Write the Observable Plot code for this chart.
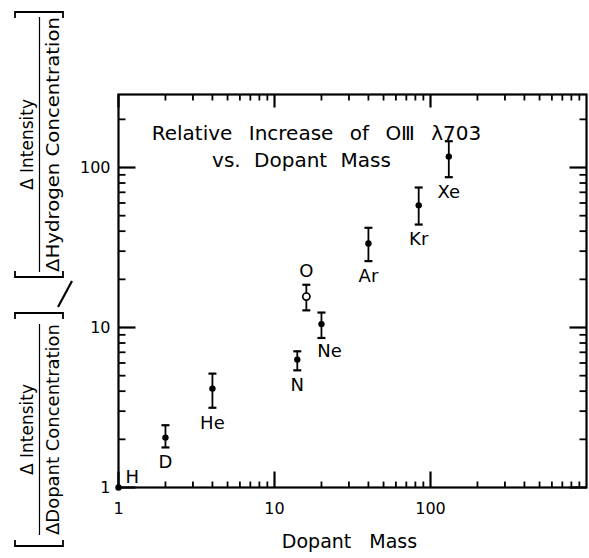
<!DOCTYPE html>
<html><head><meta charset="utf-8">
<script src="https://cdn.jsdelivr.net/npm/d3@7"></script>
<script src="https://cdn.jsdelivr.net/npm/@observablehq/plot@0.6"></script>
<style>
html,body{margin:0;padding:0;background:#fff;}
#chart{width:589px;height:558px;}
</style></head><body><div id="chart"></div>
<script>
// ---- data ----
const elements    = ["H", "D", "He", "N", "O", "Ne", "Ar", "Kr", "Xe"];
const dopantMass  = [1, 2, 4, 14, 16, 20, 40, 84, 131];
const relIncrease = [1, 2.05, 4.15, 6.3, 15.6, 10.5, 33.5, 58, 117];
const errLow      = [null, 1.78, 3.15, 5.4, 12.8, 8.6, 26, 44, 87];
const errHigh     = [null, 2.45, 5.15, 7.1, 18.5, 12.4, 42, 75, 146];
const openMarker  = ["O"];
const xTickLabels = [1, 10, 100];
const xMinorTicks = [2, 3, 4, 5, 6, 7, 8, 9, 20, 30, 40, 50, 60, 70, 80, 90, 200, 300, 400, 500, 600, 700, 800, 900];
const yTickLabels = [1, 10, 100];
const yMinorTicks = [2, 3, 4, 5, 6, 7, 8, 9, 20, 30, 40, 50, 60, 70, 80, 90, 200];
const xDomain     = [1, 1000];
const yDomain     = [1, 286];
const titleLines  = ["Relative Increase of O\u2162 \u03bb703", "vs. Dopant Mass"];
const xAxisLabel  = "Dopant Mass";

const data = elements.map((el, i) => ({el, mass: dopantMass[i], v: relIncrease[i], lo: errLow[i], hi: errHigh[i]}));
const withErr = data.filter(d => d.lo != null);
const below = withErr.filter(d => d.el !== "O" && d.el !== "Ne");

const W = 589, H = 558, mL = 118, mR = 3, mT = 94, mB = 71;
const FONT = "DejaVu Sans";

// small line symbols (length = r)
const seg = (dx, dy) => ({draw(ctx, size) { const r = Math.sqrt(size / Math.PI); ctx.moveTo(0, 0); ctx.lineTo(dx * r, dy * r); }});
const capSymbol = {draw(ctx, size) { const r = Math.sqrt(size / Math.PI); ctx.moveTo(-r, 0); ctx.lineTo(r, 0); }};
const tUp = seg(0, -1), tDown = seg(0, 1), tRight = seg(1, 0), tLeft = seg(-1, 0);
const rowsX = (vals, yb) => vals.map(v => ({v, b: yb}));
const tick = (vals, chan, fixed, sym, len, sw) =>
  Plot.dot(rowsX(vals, fixed), {[chan]: "v", [chan === "x" ? "y" : "x"]: "b", symbol: sym, r: len, stroke: "#000", strokeWidth: sw, fill: "none"});

const svg = Plot.plot({
  width: W, height: H,
  marginLeft: mL, marginRight: mR, marginTop: mT, marginBottom: mB,
  style: {fontFamily: FONT, fontSize: "16px", background: "#fff", color: "#000"},
  x: {type: "log", domain: xDomain},
  y: {type: "log", domain: yDomain},
  marks: [
    Plot.frame({fill: "none", stroke: "#000", strokeWidth: 2.2}),
    // inward ticks on all four sides
    tick(xTickLabels, "x", yDomain[0], tUp, 16, 2.2),
    tick(xMinorTicks, "x", yDomain[0], tUp, 6, 1.8),
    tick(xTickLabels, "x", yDomain[1], tDown, 13, 2.2),
    tick(xMinorTicks, "x", yDomain[1], tDown, 6, 1.8),
    tick(yTickLabels, "y", xDomain[0], tRight, 17, 2.2),
    tick(yMinorTicks, "y", xDomain[0], tRight, 7, 1.8),
    tick(yTickLabels, "y", xDomain[1], tLeft, 17, 2.2),
    tick(yMinorTicks, "y", xDomain[1], tLeft, 7, 1.8),
    Plot.axisX({ticks: xTickLabels, tickSize: 0, tickPadding: 15, tickFormat: d => String(d), label: null, fontSize: 16}),
    Plot.axisY({ticks: yTickLabels, tickSize: 0, tickPadding: 8, tickFormat: d => String(d), label: null, fontSize: 16}),
    // error bars + caps
    Plot.ruleX(withErr, {x: "mass", y1: "lo", y2: "hi", strokeWidth: 1.8}),
    Plot.dot(withErr, {x: "mass", y: "lo", symbol: capSymbol, r: 4, stroke: "#000", strokeWidth: 2.2}),
    Plot.dot(withErr, {x: "mass", y: "hi", symbol: capSymbol, r: 4, stroke: "#000", strokeWidth: 2.2}),
    // points
    Plot.dot(data.filter(d => !openMarker.includes(d.el)), {x: "mass", y: "v", r: 3.2, fill: "#000"}),
    Plot.dot(data.filter(d => openMarker.includes(d.el)), {x: "mass", y: "v", r: 3.6, fill: "#fff", stroke: "#000", strokeWidth: 1.7}),
    // element labels
    Plot.text(below, {x: "mass", y: "lo", text: "el", dy: 15, fontSize: 18}),
    Plot.text(withErr.filter(d => d.el === "Ne"), {x: "mass", y: "lo", text: "el", dx: 8, dy: 13, fontSize: 18}),
    Plot.text(withErr.filter(d => d.el === "O"), {x: "mass", y: "hi", text: "el", dy: -14, fontSize: 18}),
    Plot.text(data.filter(d => d.el === "H"), {x: "mass", y: "v", text: "el", dx: 7, dy: -10, textAnchor: "start", fontSize: 18}),
    // in-plot title
    Plot.text([titleLines[0]], {frameAnchor: "top", text: d => d, dx: -36, dy: 31, fontSize: 20}),
    Plot.text([titleLines[1]], {frameAnchor: "top", text: d => d, dx: -51, dy: 58, fontSize: 20}),
    // x-axis title
    Plot.text([xAxisLabel], {frameAnchor: "bottom", text: d => d, dx: -3, dy: 60, fontSize: 19})
  ]
});
document.getElementById("chart").appendChild(svg);

// wider word spacing like the hand lettering
d3.select(svg).selectAll("text").filter(function() { return this.textContent === titleLines[0]; }).style("word-spacing", "10px");
d3.select(svg).selectAll("text").filter(function() { return this.textContent === titleLines[1]; }).style("word-spacing", "7px");
d3.select(svg).selectAll("text").filter(function() { return this.textContent === xAxisLabel; }).style("word-spacing", "12px");

// ---- rotated y-axis label: [ΔIntensity/ΔDopant Conc.] / [ΔIntensity/ΔHydrogen Conc.] ----
const yl = d3.select(svg).append("g").attr("fill", "#000").attr("stroke", "none").style("font-family", FONT);
function fraction(y0, y1, denom, denomLen) {
  const cy = (y0 + y1) / 2;
  const g = yl.append("g");
  const bx0 = 15, bx1 = 63, leg = 6;
  g.append("path").attr("d", `M${bx0},${y0 + leg}V${y0}H${bx1}V${y0 + leg}M${bx0},${y1 - leg}V${y1}H${bx1}V${y1 - leg}`)
    .attr("fill", "none").attr("stroke", "#000").attr("stroke-width", 1.8);
  g.append("text").attr("transform", `translate(33,${cy}) rotate(-90)`).attr("text-anchor", "middle")
    .style("font-size", "17px").text("\u0394 Intensity");
  g.append("line").attr("x1", 39.5).attr("x2", 39.5).attr("y1", cy - denomLen / 2).attr("y2", cy + denomLen / 2)
    .attr("stroke", "#000").attr("stroke-width", 1.2);
  g.append("text").attr("transform", `translate(59,${cy}) rotate(-90)`).attr("text-anchor", "middle")
    .attr("textLength", denomLen).attr("lengthAdjust", "spacingAndGlyphs")
    .style("font-size", "17px").text(denom);
}
fraction(12, 277, "\u0394Hydrogen Concentration", 255);
fraction(313, 546, "\u0394Dopant Concentration", 211);
yl.append("line").attr("x1", 58).attr("y1", 307).attr("x2", 72).attr("y2", 281).attr("stroke", "#000").attr("stroke-width", 2.2);
</script>
</body></html>
